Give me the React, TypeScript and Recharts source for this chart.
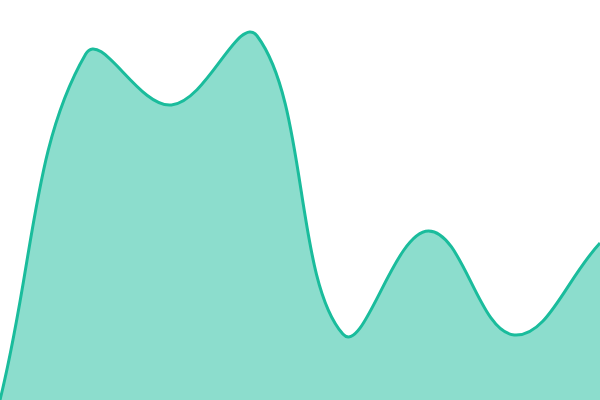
import { AreaChart, Area, XAxis, YAxis } from "recharts";

const labels = ["A", "B", "C", "D", "E", "F", "G", "H"];
const values = [0, 86.5, 73.75, 91, 16.5, 42.25, 16.25, 39.25];

const data = labels.map((name, i) => ({ name, value: values[i] }));

const W = 600;
const H = 400;

// tension spline with distance weighting and control points capped to the plot box
function tensionSpline(t: number) {
  return (ctx: any) => {
    let pts: { x: number; y: number }[] = [];
    let line = NaN;
    const clampX = (v: number) => Math.max(0, Math.min(W, v));
    const clampY = (v: number) => Math.max(0, Math.min(H, v));
    return {
      areaStart() { line = 0; },
      areaEnd() { line = NaN; },
      lineStart() { pts = []; },
      lineEnd() {
        const n = pts.length;
        if (n) {
          const cps = pts.map((cur, i) => {
            const prev = pts[Math.max(i - 1, 0)];
            const next = pts[Math.min(i + 1, n - 1)];
            const d01 = Math.hypot(cur.x - prev.x, cur.y - prev.y);
            const d12 = Math.hypot(next.x - cur.x, next.y - cur.y);
            let s01 = d01 / (d01 + d12);
            let s12 = d12 / (d01 + d12);
            if (isNaN(s01)) s01 = 0;
            if (isNaN(s12)) s12 = 0;
            const fa = t * s01;
            const fb = t * s12;
            return {
              px: clampX(cur.x - fa * (next.x - prev.x)),
              py: clampY(cur.y - fa * (next.y - prev.y)),
              nx: clampX(cur.x + fb * (next.x - prev.x)),
              ny: clampY(cur.y + fb * (next.y - prev.y)),
            };
          });
          if (line) ctx.lineTo(pts[0].x, pts[0].y);
          else ctx.moveTo(pts[0].x, pts[0].y);
          for (let i = 1; i < n; i++) {
            ctx.bezierCurveTo(cps[i - 1].nx, cps[i - 1].ny, cps[i].px, cps[i].py, pts[i].x, pts[i].y);
          }
        }
        if (line || (line !== 0 && n === 1)) ctx.closePath();
        line = 1 - line;
      },
      point(x: number, y: number) {
        pts.push({ x: +x, y: +y });
      },
    };
  };
}

const curve = tensionSpline(0.4);

export default function App() {
  return (
    <div style={{ position: "fixed", top: 0, left: 0, width: W, height: H, background: "#fff" }}>
      <AreaChart width={W} height={H} data={data} margin={{ top: 0, right: 0, bottom: 0, left: 0 }}>
        <XAxis dataKey="name" hide />
        <YAxis hide domain={[0, 100]} />
        <Area
          type={curve as any}
          dataKey="value"
          stroke="#1abc9c"
          strokeWidth={3}
          fill="#1abc9c"
          fillOpacity={0.5}
          activeDot={false}
          isAnimationActive={false}
        />
      </AreaChart>
    </div>
  );
}
